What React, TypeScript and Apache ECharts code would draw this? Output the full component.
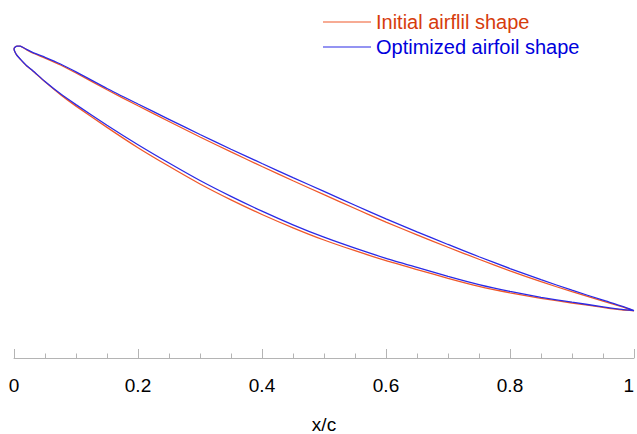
import React, { useEffect, useRef } from "react";
import * as echarts from "echarts";

// chordwise stations x/c
const xStations = [0, 0.002, 0.005, 0.01, 0.02, 0.03, 0.05, 0.075, 0.1, 0.15, 0.2, 0.25, 0.3, 0.35, 0.4, 0.45, 0.5, 0.55, 0.6, 0.65, 0.7, 0.75, 0.8, 0.85, 0.9, 0.95, 0.98, 1];

// Optimized airfoil (blue)
const optUpper = [0.4984, 0.5016, 0.5031, 0.5029, 0.4979, 0.4928, 0.485, 0.4742, 0.4615, 0.4347, 0.4097, 0.385, 0.3605, 0.3367, 0.3137, 0.291, 0.2687, 0.2464, 0.2245, 0.2035, 0.1831, 0.1633, 0.1443, 0.1263, 0.1093, 0.0932, 0.0838, 0.0766];
const optLower = [0.4976, 0.4927, 0.4879, 0.4823, 0.4718, 0.4637, 0.446, 0.4261, 0.4087, 0.3755, 0.344, 0.3145, 0.2863, 0.2607, 0.2368, 0.2148, 0.1948, 0.1771, 0.1608, 0.1462, 0.1318, 0.1185, 0.1074, 0.0979, 0.09, 0.0826, 0.0784, 0.0766];

// Initial airfoil (orange)
const initUpper = [0.4984, 0.5016, 0.5031, 0.5029, 0.4974, 0.492, 0.4837, 0.4726, 0.4596, 0.4326, 0.4068, 0.3815, 0.3565, 0.3324, 0.3089, 0.2859, 0.2634, 0.2411, 0.2192, 0.1987, 0.1786, 0.1593, 0.1406, 0.1231, 0.1069, 0.0916, 0.0828, 0.0762];
const initLower = [0.4976, 0.4927, 0.4877, 0.482, 0.4714, 0.4632, 0.4455, 0.4248, 0.4063, 0.372, 0.3392, 0.3092, 0.2807, 0.2551, 0.2315, 0.21, 0.1903, 0.173, 0.157, 0.1427, 0.1286, 0.1156, 0.1052, 0.0963, 0.0887, 0.0816, 0.0776, 0.0762];

const seriesNames = ["Initial airflil shape", "Optimized airfoil shape"];

function loop(upper: number[], lower: number[]): number[][] {
  const pts: number[][] = [];
  for (let i = xStations.length - 1; i >= 0; i--) pts.push([xStations[i], upper[i]]);
  for (let i = 0; i < xStations.length; i++) pts.push([xStations[i], lower[i]]);
  return pts;
}

const FONT = "'Liberation Sans', Arial, sans-serif";

export default function App() {
  const ref = useRef<HTMLDivElement>(null);
  useEffect(() => {
    if (!ref.current) return;
    const chart = echarts.init(ref.current, null, { renderer: "svg" });
    chart.setOption({
      animation: false,
      backgroundColor: "#ffffff",
      textStyle: { fontFamily: FONT },
      grid: { left: 14, right: 3, top: 48, bottom: 76, outerBoundsMode: "none", containLabel: false },
      legend: {
        orient: "vertical",
        left: 323,
        top: 12,
        padding: 0,
        itemWidth: 48,
        itemHeight: 1,
        itemGap: 5,
        icon: "rect",
        textStyle: { fontSize: 20, fontFamily: FONT, lineHeight: 20 },
        data: [
          { name: seriesNames[0], textStyle: { color: "#d63c0c" } },
          { name: seriesNames[1], textStyle: { color: "#0000dc" } },
        ],
      },
      xAxis: {
        type: "value",
        min: 0,
        max: 1,
        interval: 0.2,
        name: "x/c",
        nameLocation: "middle",
        nameGap: 57,
        nameTextStyle: { fontSize: 19, color: "#000", fontFamily: FONT },
        axisLine: { show: true, lineStyle: { color: "#b4b4b4", width: 1 } },
        axisTick: { show: true, inside: true, length: 9, lineStyle: { color: "#b4b4b4" } },
        minorTick: { show: true, splitNumber: 4, length: 4.5, lineStyle: { color: "#b4b4b4" } },
        splitLine: { show: false },
        axisLabel: { fontSize: 19, color: "#000", margin: 18, fontFamily: FONT, alignMaxLabel: "right" },
      },
      yAxis: {
        type: "value",
        min: 0,
        max: 0.5,
        show: false,
        splitLine: { show: false },
      },
      series: [
        {
          name: seriesNames[0],
          type: "line",
          data: loop(initUpper, initLower),
          symbol: "none",
          smooth: 0.2,
          clip: false,
          color: "#f0582a",
          lineStyle: { width: 1.3, color: "#f0582a" },
        },
        {
          name: seriesNames[1],
          type: "line",
          data: loop(optUpper, optLower),
          symbol: "none",
          smooth: 0.2,
          clip: false,
          color: "#2a2ae6",
          lineStyle: { width: 1.3, color: "#2a2ae6" },
        },
      ],
    });
    return () => chart.dispose();
  }, []);
  return <div ref={ref} style={{ width: 637, height: 434, position: "absolute", left: 0, top: 0 }} />;
}
